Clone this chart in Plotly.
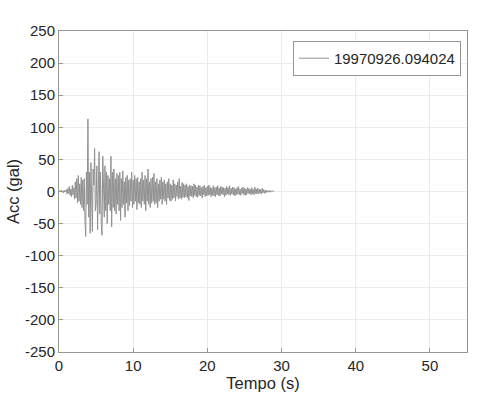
import numpy as np
import plotly.graph_objects as go

dt = 0.1
acc = [
    0, 1, -1, 2, -1, 1, -2, 2, -1, 1,
    3, -4, 5, -3, 8, -6, 4, -8, 10, -5,
    6, -12, 15, -10, 20, -18, 25, -15, 12, -20,
    22, -25, 18, -30, 20, -45, -70, 30, -20, 113,
    -40, 30, -65, 45, -20, -62, 35, 10, 67, -30,
    -20, 40, -60, 25, 62, -35, 30, -50, -68, 55,
    20, -40, 40, -30, 30, -50, 25, -20, 20, -30,
    55, -55, 30, -25, 35, -30, 20, -35, 28, -20,
    25, -30, 30, -45, 20, -25, 32, -20, 15, -40,
    22, -18, 25, -30, 18, -22, 20, -15, 30, -25,
    18, -20, 25, -15, 20, -28, 22, -18, 15, -20,
    20, -25, 30, -15, 18, -20, 25, -30, 20, -15,
    35, -20, 15, -25, 20, -18, 22, -15, 28, -20,
    15, -18, 20, -25, 12, -15, 18, -12, 22, -20,
    15, -12, 18, -15, 12, -20, 15, -10, 20, -14,
    12, -15, 10, -12, 18, -10, 12, -15, 10, -8,
    15, -12, 20, -10, 8, -12, 14, -9, 12, -10,
    10, -8, 12, -10, 8, -14, 10, -7, 9, -8,
    8, -10, 12, -6, 10, -8, 7, -9, 10, -6,
    9, -7, 6, -10, 8, -5, 10, -8, 6, -7,
    8, -6, 10, -5, 7, -8, 5, -6, 9, -7,
    6, -8, 7, -5, 9, -6, 5, -7, 8, -4,
    7, -5, 6, -8, 5, -6, 8, -4, 6, -5,
    9, -6, 5, -4, 7, -5, 6, -7, 4, -5,
    6, -4, 8, -5, 4, -6, 5, -3, 7, -5,
    5, -6, 4, -5, 6, -3, 5, -4, 3, -5,
    6, -4, 3, -5, 7, -3, 4, -4, 5, -3,
    4, -3, 3, -4, 5, -2, 3, -3, 2, -2,
    2, -1, 1, -1, 2, -1, 1, 0, 1, 0,
    0,
]
t = np.arange(len(acc)) * dt
series_name = "19970926.094024"
x_ticks = [0, 10, 20, 30, 40, 50]
y_ticks = [250, 200, 150, 100, 50, 0, -50, -100, -150, -200, -250]
y_tick_labels = ["250", "200", "150", "100", "50", "0", "-50", "-100", "-150", "-200", "-250"]

fig = go.Figure()
fig.add_trace(go.Scatter(x=t, y=acc, mode="lines", name=series_name,
                         line=dict(color="rgb(145,145,145)", width=1.0)))

font = "Liberation Sans, Arial, sans-serif"
txt = "rgb(38,38,38)"
axis_common = dict(showline=True, linecolor="rgb(150,150,150)", linewidth=1, mirror=True,
                   showgrid=True, gridcolor="rgb(235,235,235)", gridwidth=1,
                   zeroline=False, ticks="inside", ticklen=4, tickcolor="rgb(150,150,150)",
                   automargin=False,
                   tickfont=dict(family=font, size=15, color=txt))
fig.update_xaxes(range=[0, 55], tickvals=x_ticks,
                 title=dict(text="Tempo (s)", font=dict(family=font, size=16.5, color=txt), standoff=2),
                 **axis_common)
fig.update_yaxes(range=[-250, 250], tickvals=y_ticks, ticktext=y_tick_labels,
                 title=dict(text="Acc (gal)", font=dict(family=font, size=16.5, color=txt), standoff=1),
                 **axis_common)
fig.update_layout(width=478, height=396, margin=dict(l=59, r=11, t=31, b=44),
                  paper_bgcolor="white", plot_bgcolor="white",
                  showlegend=True,
                  legend=dict(x=0.985, y=0.969, xanchor="right", yanchor="top",
                              bgcolor="white", bordercolor="rgb(150,150,150)", borderwidth=1,
                              font=dict(family=font, size=15, color=txt),
                              itemwidth=30))
fig.write_html("out.html", config={"displayModeBar": False},
               post_script="document.body.style.margin='0';document.body.style.padding='0';")
